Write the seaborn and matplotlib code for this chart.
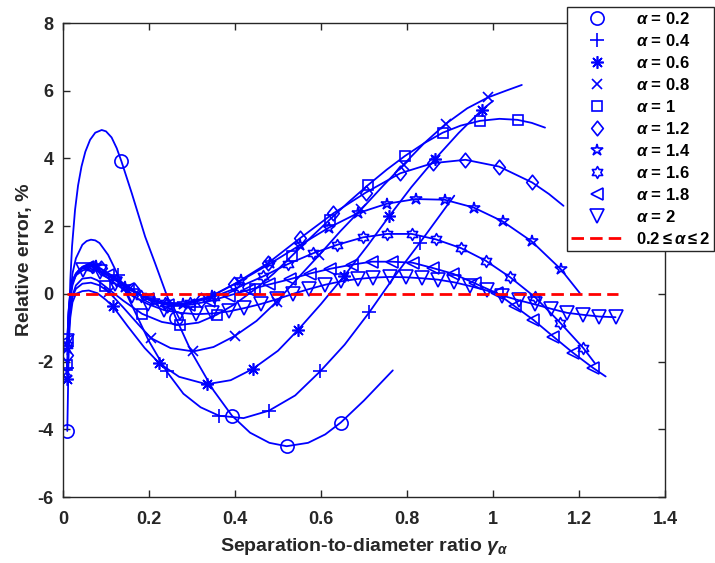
"""
Relative error vs separation-to-diameter ratio, one curve per alpha.
"""
import numpy as np
import pandas as pd
import matplotlib
matplotlib.use("Agg")
import matplotlib.pyplot as plt
from matplotlib.path import Path
import seaborn as sns

sns.set_style("ticks")
plt.rcParams["font.family"] = ["Liberation Sans", "DejaVu Sans"]
plt.rcParams["font.weight"] = "bold"
plt.rcParams["axes.unicode_minus"] = False
plt.rcParams["mathtext.fontset"] = "custom"
plt.rcParams["mathtext.rm"] = "Liberation Sans:bold"
plt.rcParams["mathtext.it"] = "Liberation Sans:italic:bold"

TEXT = "#262626"

# ── data ─────────────────────────────────────────────────────────────────────
# *_MARKS: points carrying a marker, *_EXTRA: points only on the line
A02_MARKS = [(0.01, -4.05), (0.136, 3.91), (0.262, -0.7), (0.393, -3.6),
             (0.52, -4.5), (0.646, -3.8)]
A02_EXTRA = [(0.012, -2.6), (0.014, -1.0), (0.017, 0.4), (0.021, 1.4),
             (0.028, 2.48), (0.035, 3.2), (0.043, 3.76), (0.052, 4.2),
             (0.063, 4.55), (0.075, 4.76), (0.09, 4.84), (0.1, 4.8),
             (0.113, 4.62), (0.125, 4.3), (0.16, 2.97), (0.191, 1.69),
             (0.214, 0.91), (0.241, -0.03), (0.3, -1.75), (0.35, -2.85),
             (0.435, -4.1), (0.48, -4.4), (0.57, -4.4), (0.61, -4.15),
             (0.7, -3.15), (0.767, -2.26)]

A04_MARKS = [(0.01, -2.2), (0.128, 0.55), (0.241, -2.29), (0.363, -3.6),
             (0.479, -3.45), (0.598, -2.29), (0.712, -0.55), (0.83, 1.51)]
A04_EXTRA = [(0.013, -1.1), (0.017, -0.1), (0.022, 0.6), (0.03, 1.05),
             (0.045, 1.45), (0.055, 1.56), (0.065, 1.6), (0.075, 1.58),
             (0.085, 1.5), (0.105, 1.15), (0.155, -0.2), (0.2, -1.4),
             (0.28, -2.95), (0.32, -3.35), (0.42, -3.67), (0.54, -3.0),
             (0.655, -1.5), (0.77, 0.5), (0.91, 2.9)]

A06_MARKS = [(0.01, -2.5), (0.116, -0.37), (0.224, -2.05), (0.334, -2.67),
             (0.441, -2.22), (0.547, -1.06), (0.654, 0.53), (0.759, 2.30),
             (0.865, 3.98), (0.974, 5.43)]
A06_EXTRA = [(0.013, -1.5), (0.017, -0.7), (0.022, -0.25), (0.03, 0.0),
             (0.045, 0.08), (0.06, 0.1), (0.08, 0.02), (0.1, -0.18),
             (0.15, -0.95), (0.19, -1.6), (0.27, -2.45), (0.39, -2.55),
             (0.5, -1.68), (0.6, -0.3), (0.71, 1.45), (0.81, 3.15),
             (0.92, 4.75), (1.0, 5.7)]

A08_MARKS = [(0.01, -2.3), (0.107, 0.05), (0.205, -1.31), (0.303, -1.70),
             (0.4, -1.24), (0.497, -0.23), (0.596, 1.15), (0.694, 2.5),
             (0.792, 3.82), (0.89, 5.02), (0.988, 5.8)]
A08_EXTRA = [(0.013, -1.2), (0.017, -0.5), (0.022, -0.1), (0.03, 0.15),
             (0.045, 0.3), (0.065, 0.33), (0.085, 0.25), (0.14, -0.4),
             (0.175, -0.9), (0.25, -1.6), (0.35, -1.57), (0.45, -0.8),
             (0.545, 0.45), (0.645, 1.85), (0.745, 3.2), (0.84, 4.45),
             (0.94, 5.48), (1.03, 6.0), (1.067, 6.17)]

A10_MARKS = [(0.01, -2.1), (0.098, 0.22), (0.184, -0.59), (0.272, -0.92),
             (0.357, -0.62), (0.447, 0.14), (0.532, 1.12), (0.62, 2.19),
             (0.71, 3.22), (0.795, 4.07), (0.883, 4.76), (0.97, 5.11),
             (1.057, 5.14)]
A10_EXTRA = [(0.013, -1.1), (0.017, -0.45), (0.022, -0.05), (0.03, 0.25),
             (0.045, 0.45), (0.065, 0.48), (0.08, 0.4), (0.14, -0.2),
             (0.23, -0.83), (0.315, -0.85), (0.4, -0.3), (0.49, 0.6),
             (0.575, 1.65), (0.665, 2.72), (0.753, 3.67), (0.84, 4.45),
             (0.925, 4.97), (1.015, 5.17), (1.09, 5.05), (1.121, 4.91)]

A12_MARKS = [(0.01, -1.8), (0.0875, 0.75), (0.165, 0.1), (0.2425, -0.33),
             (0.32, -0.18), (0.3975, 0.28), (0.477, 0.91), (0.551, 1.64),
             (0.629, 2.38), (0.704, 2.99), (0.784, 3.56), (0.86, 3.86),
             (0.936, 3.96), (1.014, 3.76), (1.091, 3.29)]
A12_EXTRA = [(0.013, -0.9), (0.017, -0.2), (0.022, 0.25), (0.03, 0.55),
             (0.045, 0.78), (0.065, 0.86), (0.125, 0.45), (0.2, -0.18),
             (0.28, -0.33), (0.36, 0.03), (1.13, 2.95), (1.164, 2.6)]

A14_MARKS = [(0.01, -1.6), (0.0775, 0.82), (0.145, 0.2), (0.2125, -0.22),
             (0.28, -0.3), (0.3475, -0.05), (0.415, 0.4), (0.4825, 0.9),
             (0.55, 1.43), (0.6175, 1.95), (0.685, 2.38), (0.7525, 2.66),
             (0.82, 2.80), (0.8875, 2.78), (0.955, 2.55), (1.0225, 2.14),
             (1.09, 1.55), (1.1575, 0.73)]
A14_EXTRA = [(0.013, -0.7), (0.017, -0.05), (0.022, 0.35), (0.03, 0.6),
             (0.045, 0.8), (0.06, 0.86), (0.11, 0.55), (0.18, -0.05),
             (1.202, 0.02)]

A16_MARKS = [(0.01, -1.5), (0.067, 0.8), (0.124, 0.4), (0.181, -0.05),
             (0.238, -0.28), (0.295, -0.28), (0.352, -0.08), (0.409, 0.2),
             (0.466, 0.52), (0.523, 0.88), (0.582, 1.2), (0.638, 1.45),
             (0.698, 1.67), (0.754, 1.77), (0.811, 1.77), (0.867, 1.61),
             (0.926, 1.35), (0.983, 0.98), (1.04, 0.49), (1.098, -0.1),
             (1.156, -0.85), (1.21, -1.6)]
A16_EXTRA = [(0.013, -0.6), (0.017, 0.0), (0.022, 0.35), (0.03, 0.55),
             (0.045, 0.75), (1.237, -2.05)]

A18_MARKS = [(0.01, -1.4), (0.057, 0.8), (0.104, 0.55), (0.151, 0.15),
             (0.198, -0.15), (0.245, -0.32), (0.292, -0.33), (0.339, -0.22),
             (0.386, -0.05), (0.433, 0.12), (0.48, 0.28), (0.527, 0.43),
             (0.574, 0.6), (0.621, 0.74), (0.671, 0.86), (0.718, 0.95),
             (0.764, 0.95), (0.813, 0.92), (0.861, 0.76), (0.908, 0.59),
             (0.958, 0.31), (1.009, 0.02), (1.051, -0.37), (1.094, -0.77),
             (1.14, -1.26), (1.187, -1.75), (1.233, -2.19)]
A18_EXTRA = [(0.013, -0.55), (0.017, 0.05), (0.022, 0.4), (0.03, 0.6),
             (0.04, 0.75), (0.07, 0.82), (1.262, -2.44)]

A20_MARKS = [(0.01, -1.4), (0.047, 0.7), (0.085, 0.65), (0.122, 0.3),
             (0.16, -0.05), (0.197, -0.3), (0.235, -0.48), (0.272, -0.56),
             (0.31, -0.6), (0.347, -0.58), (0.385, -0.52), (0.422, -0.42),
             (0.46, -0.3), (0.497, -0.16), (0.535, 0.0), (0.572, 0.14),
             (0.61, 0.27), (0.647, 0.37), (0.685, 0.44), (0.722, 0.48),
             (0.76, 0.5), (0.797, 0.49), (0.835, 0.46), (0.872, 0.42),
             (0.91, 0.34), (0.947, 0.23), (0.985, 0.1), (1.022, -0.05),
             (1.06, -0.19), (1.097, -0.31), (1.135, -0.44), (1.172, -0.56),
             (1.21, -0.62), (1.247, -0.67), (1.285, -0.69)]
A20_EXTRA = [(0.013, -0.5), (0.017, 0.05), (0.022, 0.35), (0.03, 0.55),
             (0.065, 0.74)]

ALPHA_LABELS = ["0.2", "0.4", "0.6", "0.8", "1", "1.2", "1.4", "1.6", "1.8", "2"]
REF_X = [0.01, 1.29]
REF_Y = [0.0, 0.0]
X_TICKS = [0, 0.2, 0.4, 0.6, 0.8, 1.0, 1.2, 1.4]
X_TICKLABELS = ["0", "0.2", "0.4", "0.6", "0.8", "1", "1.2", "1.4"]
Y_TICKS = [-6, -4, -2, 0, 2, 4, 6, 8]

# ── marker shapes (MATLAB look) ──────────────────────────────────────────────
star6 = []
for k in range(12):
    ang = np.pi / 2 + k * np.pi / 6
    r = 1.0 if k % 2 == 0 else 1 / np.sqrt(3)
    star6.append((r * np.cos(ang), r * np.sin(ang)))
star6.append(star6[0])
HEXAGRAM = Path(star6, [Path.MOVETO] + [Path.LINETO] * 11 + [Path.CLOSEPOLY])
DIAMOND = Path([(0, 1), (0.8, 0), (0, -1), (-0.8, 0), (0, 1)],
               [Path.MOVETO, Path.LINETO, Path.LINETO, Path.LINETO, Path.CLOSEPOLY])

CURVES = [
    (A02_MARKS, A02_EXTRA, "o", 9.5),
    (A04_MARKS, A04_EXTRA, "+", 9.5),
    (A06_MARKS, A06_EXTRA, (8, 2, 0), 9.0),
    (A08_MARKS, A08_EXTRA, "x", 6.5),
    (A10_MARKS, A10_EXTRA, "s", 7.0),
    (A12_MARKS, A12_EXTRA, DIAMOND, 10.5),
    (A14_MARKS, A14_EXTRA, "*", 9.0),
    (A16_MARKS, A16_EXTRA, HEXAGRAM, 8.5),
    (A18_MARKS, A18_EXTRA, "<", 9.0),
    (A20_MARKS, A20_EXTRA, "v", 9.5),
]

# ── plot ─────────────────────────────────────────────────────────────────────
fig = plt.figure(figsize=(7.15, 5.63), dpi=100)
ax = fig.add_axes([63 / 715, 66 / 563, 602 / 715, 474 / 563])

BLUE = (0, 0, 1)
for (marks, extra, mk, ms), lab in zip(CURVES, ALPHA_LABELS):
    pts = sorted(marks + extra)
    df = pd.DataFrame(pts, columns=["gamma", "err"])
    sns.lineplot(data=df, x="gamma", y="err", ax=ax, color=BLUE, lw=1.3,
                 estimator=None, sort=True, legend=False)
    mx, my = zip(*marks)
    ax.plot(mx, my, linestyle="none", marker=mk, markersize=ms,
            markerfacecolor="none", markeredgecolor=BLUE, markeredgewidth=1.2,
            label=rf"$\alpha$ = {lab}")

sns.lineplot(x=REF_X, y=REF_Y, ax=ax, color="red", lw=2.0, legend=False)
ax.lines[-1].set_dashes((4.5, 2.2))
ax.lines[-1].set_label(r"0.2$\leq\alpha\leq$2")

ax.set_xlim(0, 1.4)
ax.set_ylim(-6, 8)
ax.set_xticks(X_TICKS)
ax.set_xticklabels(X_TICKLABELS)
ax.set_yticks(Y_TICKS)
ax.tick_params(direction="in", top=True, right=True, length=5, width=1,
               labelsize=13, colors=TEXT)
ax.tick_params(axis="x", pad=10)
ax.tick_params(axis="y", pad=7)
for lbl in ax.get_xticklabels() + ax.get_yticklabels():
    lbl.set_fontweight("bold")
for sp in ax.spines.values():
    sp.set_visible(True)
    sp.set_color(TEXT)
    sp.set_linewidth(1.0)

ax.set_xlabel(r"Separation-to-diameter ratio $\gamma_\alpha$", fontsize=14,
              fontweight="bold", color=TEXT, labelpad=6)
ax.set_ylabel("Relative error, %", fontsize=14, fontweight="bold", color=TEXT,
              labelpad=3)

handles, labels = ax.get_legend_handles_labels()
leg = fig.legend(handles, labels, loc="upper right",
                 bbox_to_anchor=(714 / 715, 1 - 7 / 563), borderaxespad=0,
                 fancybox=False, framealpha=1, edgecolor=TEXT,
                 prop={"size": 12, "weight": "bold"}, handlelength=3.2,
                 handletextpad=0.7, labelspacing=0.36, borderpad=0.25)
leg.get_frame().set_linewidth(1.0)
for t in leg.get_texts():
    t.set_color("black")

fig.savefig("out.png", dpi=100)
